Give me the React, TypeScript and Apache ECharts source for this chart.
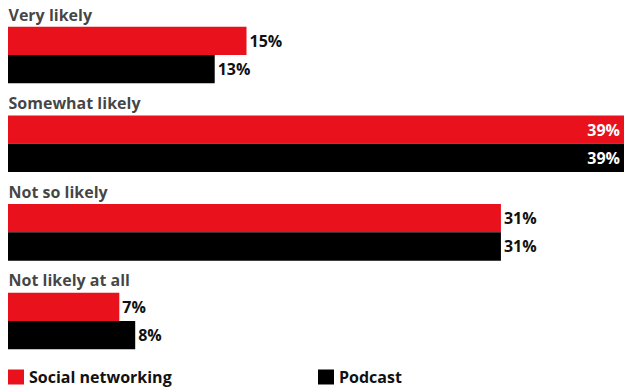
import React, { useEffect, useRef } from "react";
import * as echarts from "echarts";

const categories = ["Very likely", "Somewhat likely", "Not so likely", "Not likely at all"];
const socialNetworking = [15, 39, 31, 7];
const podcast = [13, 39, 31, 8];
const seriesNames = ["Social networking", "Podcast"];

const RED = "#E8111C";
const FONT = "'Open Sans', sans-serif";

function barData(values: number[]) {
  return values.map((v) =>
    v >= 35
      ? { value: v, label: { position: "insideRight", color: "#ffffff", distance: 4 } }
      : { value: v }
  );
}

export default function App() {
  const ref = useRef<HTMLDivElement>(null);
  useEffect(() => {
    if (!ref.current) return;
    const chart = echarts.init(ref.current, undefined, { renderer: "svg" });
    const valueLabel = {
      show: true,
      position: "right",
      distance: 3,
      formatter: (p: any) => `${p.value}%`,
      fontFamily: FONT,
      fontWeight: "bold",
      fontSize: 16,
      color: "#111111",
    };
    const legendBase = {
      top: 369,
      itemWidth: 16,
      itemHeight: 15,
      itemTextGap: 6,
      icon: "rect",
      selectedMode: false,
      padding: 0,
      textStyle: {
        fontFamily: FONT,
        fontWeight: "bold",
        fontSize: 16,
        lineHeight: 15,
        color: "#111111",
      },
    };
    chart.setOption({
      animation: false,
      backgroundColor: "#ffffff",
      grid: { left: 8, right: 0, top: 10.7, bottom: 23.7, containLabel: false },
      xAxis: {
        type: "value",
        min: 0,
        max: 38.74,
        show: false,
      },
      yAxis: {
        type: "category",
        data: categories,
        inverse: true,
        show: false,
      },
      legend: [
        { ...legendBase, data: [seriesNames[0]], left: 8 },
        { ...legendBase, data: [seriesNames[1]], left: 318 },
      ],
      series: [
        {
          name: seriesNames[0],
          type: "bar",
          data: barData(socialNetworking),
          barWidth: 28.3,
          barGap: "0%",
          clip: true,
          itemStyle: { color: RED },
          label: valueLabel,
        },
        {
          name: seriesNames[1],
          type: "bar",
          data: barData(podcast),
          barWidth: 28.3,
          barGap: "0%",
          clip: true,
          itemStyle: { color: "#000000" },
          label: valueLabel,
        },
        {
          name: "categoryLabels",
          type: "scatter",
          symbolSize: 1,
          itemStyle: { color: "rgba(0,0,0,0)" },
          data: categories.map((c) => ({ value: [0, c], name: c })),
          label: {
            show: true,
            position: "right",
            distance: 0,
            offset: [0, -40.5],
            formatter: (p: any) => p.name,
            fontFamily: FONT,
            fontWeight: "bold",
            fontSize: 16,
            color: "#111111",
          },
          silent: true,
        },
      ],
    });
    return () => chart.dispose();
  }, []);
  return (
    <div
      ref={ref}
      style={{ position: "fixed", left: 0, top: 0, width: 624, height: 389 }}
    />
  );
}
